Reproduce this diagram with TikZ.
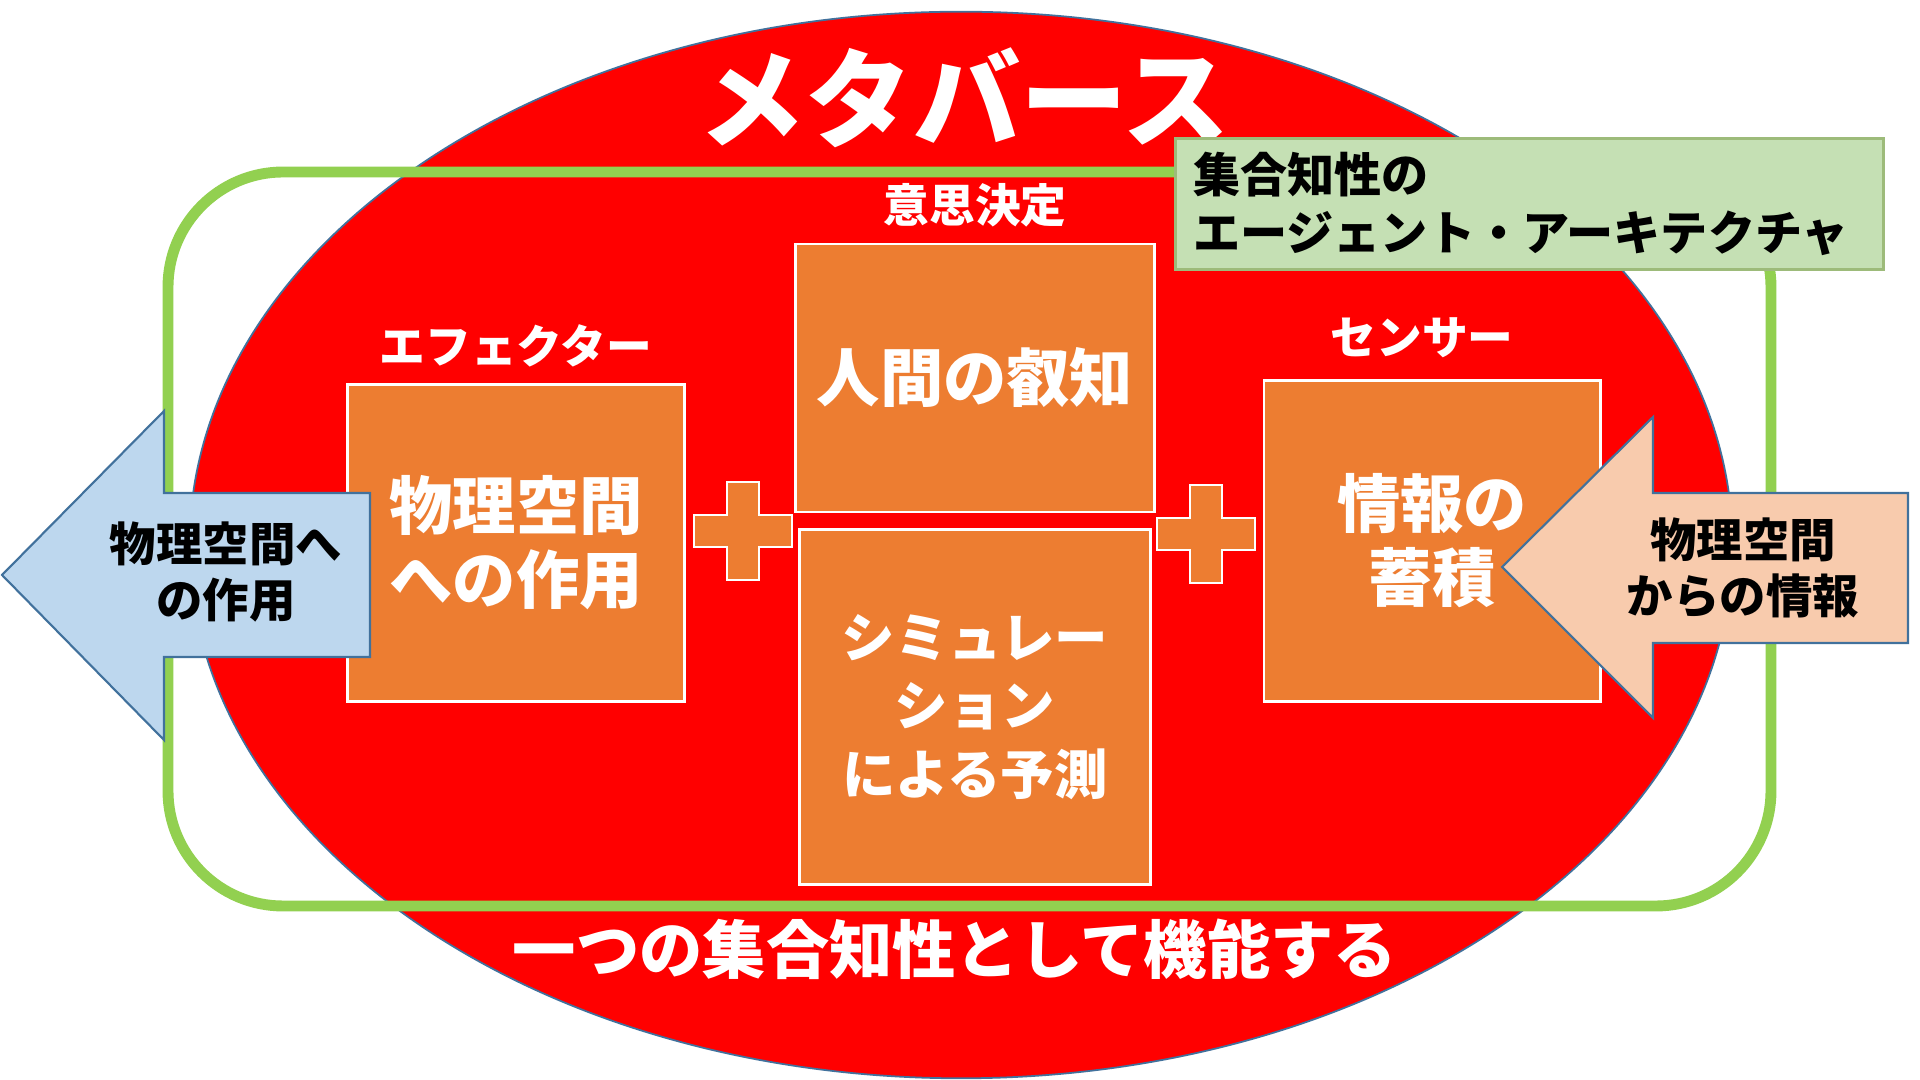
\documentclass[tikz,border=0pt]{standalone}
\usepackage{fontspec}
\newfontfamily\jp{Noto Sans CJK JP}
\usetikzlibrary{positioning}
\definecolor{metared}{HTML}{FF0000}
\definecolor{boxorange}{HTML}{ED7D31}
\definecolor{loopgreen}{HTML}{92D050}
\definecolor{archfill}{HTML}{C5E0B4}
\definecolor{archline}{HTML}{9DBB7A}
\definecolor{outblue}{HTML}{BDD7EE}
\definecolor{inpeach}{HTML}{F8CBAD}
\definecolor{edgeblue}{HTML}{41719C}

\begin{document}
\begin{tikzpicture}[x=0.01cm, y=-0.01cm,
    box/.style={draw=white, line width=0.8pt, fill=boxorange, text=white, align=center, inner sep=0pt, font=\jp\bfseries\fontsize{18}{21}\selectfont},
    heading/.style={text=white, inner sep=0pt, font=\jp\bfseries\fontsize{13}{15}\selectfont},
    bigtext/.style={text=white, inner sep=0pt, font=\jp\bfseries\fontsize{18}{21}\selectfont},
    flowtext/.style={text=black, align=center, inner sep=0pt, font=\jp\bfseries\fontsize{13.2}{16}\selectfont},
    flow/.style={draw=edgeblue, line width=0.6pt},
    pics/plussign/.style={code={
        \draw[white, line width=0.8pt, fill=boxorange] (-16,-49) -- (16,-49) -- (16,-16) -- (49,-16) -- (49,16) -- (16,16) -- (16,49) -- (-16,49) -- (-16,16) -- (-49,16) -- (-49,-16) -- (-16,-16) -- cycle;
    }}
]
    \fill[white] (0,0) rectangle (1920,1080);
    \useasboundingbox (0,0) rectangle (1920,1080);

    % metaverse
    \fill[metared, draw=edgeblue, line width=0.5pt] (961,545) ellipse [x radius=7.71cm, y radius=5.33cm];
    \node[bigtext, font=\jp\bfseries\fontsize{30.5}{36}\selectfont] (title) at (964,98) {メタバース};

    % collective loop
    \draw[loopgreen, line width=3.1pt, rounded corners=1.15cm] (168,172) rectangle (1771,906);
    \node[draw=archline, line width=0.8pt, fill=archfill, anchor=north west, text width=6.72cm, inner xsep=0.18cm, inner ysep=0pt, minimum height=1.31cm, align=left, font=\jp\bfseries\fontsize{13.4}{16.3}\selectfont] (arch) at (1174,137) {集合知性の\\エージェント・アーキテクチャ};

    % architecture blocks
    \node[box, minimum width=3.36cm, minimum height=3.17cm] (effector) at (516,543) {物理空間\\への作用};
    \node[box, minimum width=3.59cm, minimum height=2.68cm] (wisdom) at (975,378) {人間の叡知};
    \node[box, minimum width=3.51cm, minimum height=3.55cm, font=\jp\bfseries\fontsize{15.2}{19.4}\selectfont] (simulation) at (975,707) {シミュレー\\ション\\による予測};
    \node[box, minimum width=3.36cm, minimum height=3.21cm] (sensor) at (1432,541) {情報の\\蓄積};

    \node[heading, above=0.15cm of effector] (effectorhead) {エフェクター};
    \node[heading, above=0.15cm of wisdom] (decisionhead) {意思決定};
    \node[heading, above=0.2cm of sensor, xshift=-0.1cm] (sensorhead) {センサー};

    \pic at (743,531) {plussign};
    \pic at (1206,534) {plussign};

    % in and out
    \draw[flow, fill=outblue] (2,575) -- (164,411) -- (164,493) -- (370,493) -- (370,657) -- (164,657) -- (164,740) -- cycle;
    \node[flowtext] (actout) at (226,572) {物理空間へ\\の作用};
    \draw[flow, fill=inpeach] (1502,567) -- (1653,417) -- (1653,493) -- (1908,493) -- (1908,643) -- (1653,643) -- (1653,718) -- cycle;
    \node[flowtext] (infoin) at (1743,568) {物理空間\\からの情報};

    \node[bigtext] (motto) at (955,949) {一つの集合知性として機能する};
\end{tikzpicture}
\end{document}
